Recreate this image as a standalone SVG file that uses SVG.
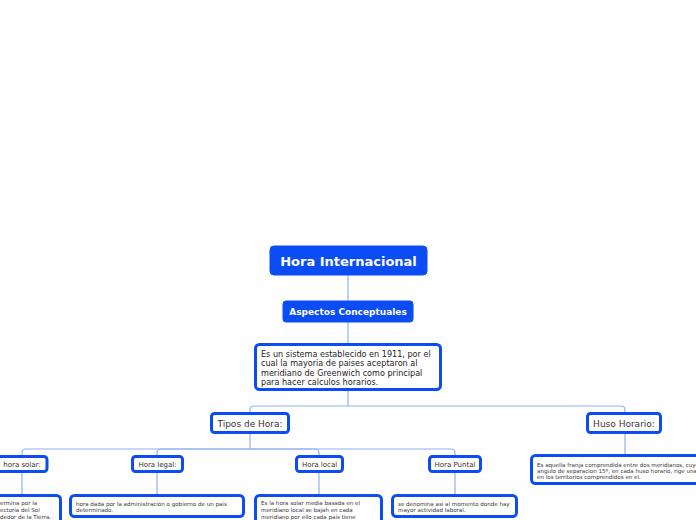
<svg xmlns="http://www.w3.org/2000/svg" width="696" height="520" viewBox="0 0 696 520">
<style>
.conn{fill:none;stroke:#8fb0f8;stroke-width:1.2}
.solid{fill:#0b4cf5;stroke:#0b4cf5;stroke-width:1}
.box{fill:#fff;stroke:#0b4cf5;stroke-width:3}
.tw{font-family:"DejaVu Sans",Verdana,sans-serif;font-weight:bold;fill:#fff;text-anchor:middle}
.tn{font-family:"DejaVu Sans",Verdana,sans-serif;fill:#333;font-size:9px;text-anchor:middle}
.tl{font-family:"DejaVu Sans",Verdana,sans-serif;fill:#333;font-size:7px;text-anchor:middle}
.td{font-family:"DejaVu Sans",Verdana,sans-serif;fill:#222;font-size:8.1px}
.ts{font-family:"DejaVu Sans",Verdana,sans-serif;fill:#333;font-size:5.55px}
</style>
<rect width="696" height="520" fill="#fff"/>
<g id="connectors">
<path class="conn" d="M348,275 V301"/>
<path class="conn" d="M348,322 V344"/>
<path class="conn" d="M348,390 V406"/>
<path class="conn" d="M250,413 V410 Q250,406 254,406 H621 Q625,406 625,410 V413"/>
<path class="conn" d="M250,433 V449"/>
<path class="conn" d="M250,449 H26 Q22,449 22,453 V456"/>
<path class="conn" d="M250,449 H161 Q157,449 157,453 V456"/>
<path class="conn" d="M250,449 H315 Q319,449 319,453 V456"/>
<path class="conn" d="M250,449 H451 Q455,449 455,453 V456"/>
<path class="conn" d="M22,472 V495"/>
<path class="conn" d="M157,472 V495"/>
<path class="conn" d="M319,472 V495"/>
<path class="conn" d="M455,472 V495"/>
<path class="conn" d="M625,433 V455"/>
</g>
<g id="root">
<rect class="solid" x="270" y="246" width="157" height="29" rx="4"/>
<text class="tw" x="348.5" y="265.5" font-size="13">Hora Internacional</text>
</g>
<g id="aspectos">
<rect class="solid" x="283" y="301" width="130" height="21" rx="3"/>
<text class="tw" x="348" y="315" font-size="9">Aspectos Conceptuales</text>
</g>
<g id="definicion">
<rect class="box" x="255.5" y="344.5" width="185" height="45" rx="4"/>
<text class="td" x="261" y="356.5">Es un sistema establecido en 1911, por el</text>
<text class="td" x="261" y="366">cual la mayoria de paises aceptaron al</text>
<text class="td" x="261" y="375.5">meridiano de Greenwich como principal</text>
<text class="td" x="261" y="385">para hacer calculos horarios.</text>
</g>
<g id="tipos">
<rect class="box" x="211.5" y="413.5" width="77" height="19" rx="3"/>
<text class="tn" x="250" y="427">Tipos de Hora:</text>
</g>
<g id="huso">
<rect class="box" x="587.5" y="413.5" width="73" height="19" rx="3"/>
<text class="tn" x="624" y="427">Huso Horario:</text>
</g>
<g id="huso-desc">
<rect class="box" x="531.5" y="455.5" width="170" height="28" rx="4"/>
<text class="ts" x="537" y="466.5">Es aquella franja comprendida entre dos meridianos, cuyo</text>
<text class="ts" x="537" y="472.5">angulo de separacion 15º, en cada huso horario, rige una</text>
<text class="ts" x="537" y="479">en los territorios comprendidos en el.</text>
</g>
<g id="hora-solar">
<rect class="box" x="-5" y="456.5" width="52" height="15" rx="3"/>
<text class="tl" x="22" y="467">hora solar:</text>
</g>
<g id="hora-legal">
<rect class="box" x="132.5" y="456.5" width="50" height="15" rx="3"/>
<text class="tl" x="157.5" y="467">Hora legal:</text>
</g>
<g id="hora-local">
<rect class="box" x="296.5" y="456.5" width="46" height="15" rx="3"/>
<text class="tl" x="319.5" y="467">Hora local</text>
</g>
<g id="hora-puntal">
<rect class="box" x="429.5" y="456.5" width="51" height="15" rx="3"/>
<text class="tl" x="455" y="467">Hora Puntal</text>
</g>
<g id="hora-solar-desc">
<rect class="box" x="-10" y="495.5" width="70.5" height="35" rx="4"/>
<text class="ts" x="0" y="505">ermina por la</text>
<text class="ts" x="0" y="512">ectoria del Sol</text>
<text class="ts" x="0" y="519">dedor de la Tierra.</text>
</g>
<g id="hora-legal-desc">
<rect class="box" x="70.5" y="495.5" width="173" height="21" rx="4"/>
<text class="ts" x="76" y="505.5">hora dada por la administración o gobierno de un país</text>
<text class="ts" x="76" y="512">determinado.</text>
</g>
<g id="hora-local-desc">
<rect class="box" x="255.5" y="495.5" width="126" height="35" rx="4"/>
<text class="ts" x="261" y="505">Es la hora solar media basada en el</text>
<text class="ts" x="261" y="512">meridiano local se bajah en cada</text>
<text class="ts" x="261" y="519">meridiano  por ello cada país tiene</text>
</g>
<g id="hora-puntal-desc">
<rect class="box" x="392.5" y="495.5" width="124" height="21" rx="4"/>
<text class="ts" x="398" y="505.5">se denomina asi al momento donde hay</text>
<text class="ts" x="398" y="512">mayor actividad laboral.</text>
</g>
</svg>
